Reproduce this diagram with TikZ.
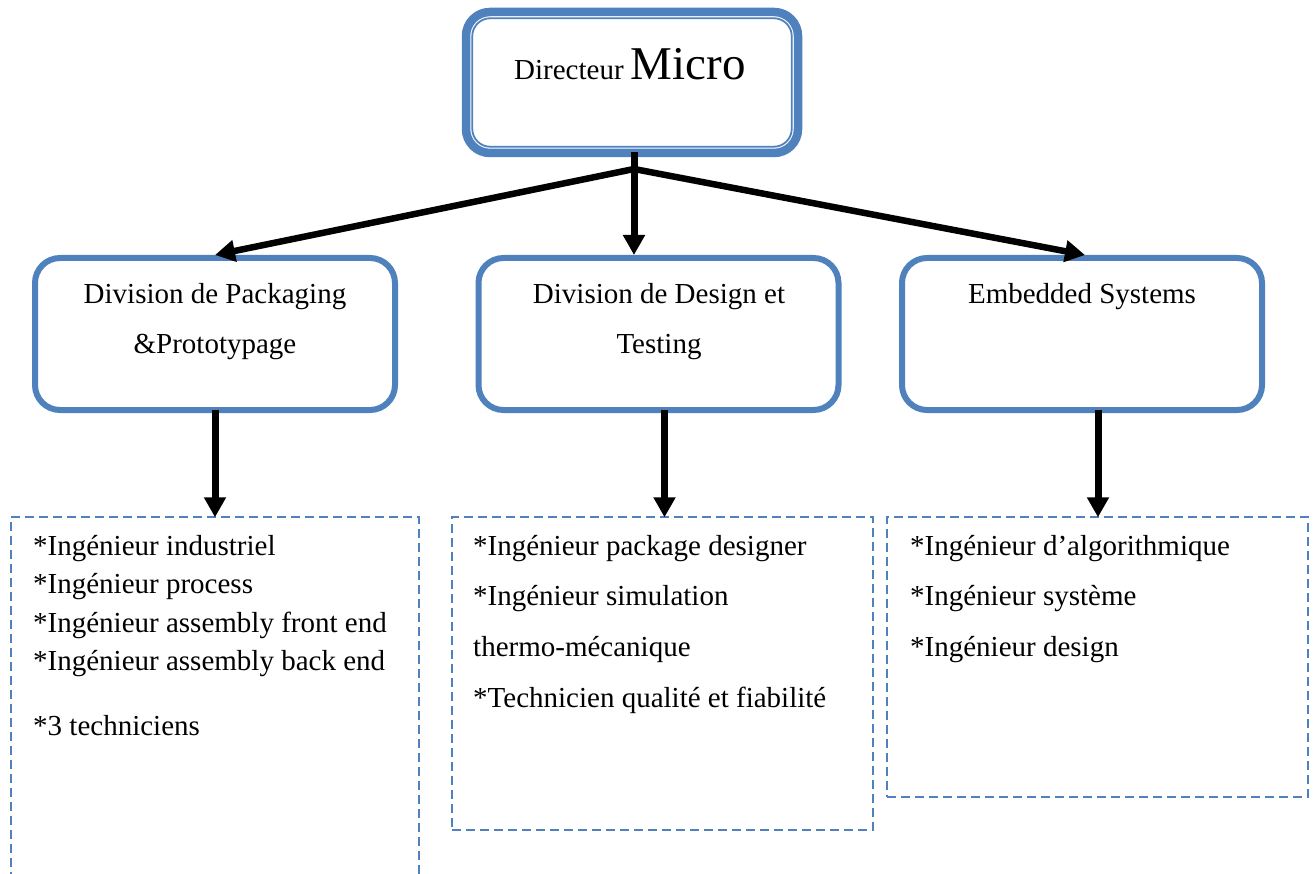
\documentclass[tikz,border=0pt]{standalone}
\usepackage{fontspec}
\setmainfont{Liberation Serif}
\usetikzlibrary{arrows.meta}
\definecolor{accent}{HTML}{4F81BD}

\begin{document}
\begin{tikzpicture}[x=1pt,y=-1pt,
  every node/.style={font=\fontsize{29}{34}\selectfont},
  unitbox/.style={draw=accent, line width=6pt, rounded corners=25pt,
    minimum width=360pt, minimum height=152pt, inner sep=0pt},
  headbox/.style={draw=accent, line width=8.5pt, rounded corners=24pt,
    minimum width=332pt, minimum height=141pt, inner sep=0pt},
  listbox/.style={draw=accent, line width=2.4pt, dash pattern=on 9pt off 5pt,
    inner sep=0pt},
  label/.style={inner sep=0pt, anchor=base},
  item/.style={inner sep=0pt, anchor=base west},
  conn/.style={line width=7pt, -{Triangle[length=20pt,width=21pt]}},
  fork/.style={line width=6.5pt, {Triangle[length=20pt,width=21pt]}-{Triangle[length=20pt,width=21pt]}}
]
\useasboundingbox (0,0) rectangle (1314,874);
\fill[white] (0,0) rectangle (1314,874);
\clip (0,0) rectangle (1314,874);

% director
\node[headbox] (dir) at (632,82.5) {};
\draw[accent, line width=1.8pt, rounded corners=18pt]
  ([shift={(10.5,10.5)}]dir.north west) rectangle ([shift={(-10.5,-10.5)}]dir.south east);
\node[label] (dirt) at (630,80) {Directeur {\fontsize{47}{50}\selectfont Micro}};

% divisions
\node[unitbox] (pk) at (215,334) {};
\node[label] (pk1) at (215,304) {Division de Packaging};
\node[label] (pk2) at (215,354) {\&Prototypage};

\node[unitbox] (ds) at (658.5,334) {};
\node[label] (ds1) at (659,304) {Division de Design et};
\node[label] (ds2) at (659,354) {Testing};

\node[unitbox] (es) at (1082,334) {};
\node[label] (es1) at (1082,304) {Embedded Systems};

% staff lists
\node[listbox, minimum width=408pt, minimum height=383pt] (pkl) at (215,708.5) {};
\node[item] (pkl1) at (33,555) {*Ingénieur industriel};
\node[item] (pkl2) at (33,593) {*Ingénieur process};
\node[item] (pkl3) at (33,632) {*Ingénieur assembly front end};
\node[item] (pkl4) at (33,670) {*Ingénieur assembly back end};
\node[item] (pkl5) at (33,735) {*3 techniciens};

\node[listbox, minimum width=421pt, minimum height=313pt] (dsl) at (662.5,673.5) {};
\node[item] (dsl1) at (473,555) {*Ingénieur package designer};
\node[item] (dsl2) at (473,605) {*Ingénieur simulation};
\node[item] (dsl3) at (473,656) {thermo-mécanique};
\node[item] (dsl4) at (473,707) {*Technicien qualité et fiabilité};

\node[listbox, minimum width=421pt, minimum height=280pt] (esl) at (1097.5,657) {};
\node[item] (esl1) at (910,555) {*Ingénieur d’algorithmique};
\node[item] (esl2) at (910,605) {*Ingénieur système};
\node[item] (esl3) at (910,656) {*Ingénieur design};

% connectors
\coordinate (j) at (634,169);
\draw[conn] ([yshift=5pt]dir.south -| j) -- (j |- ds.north);
\draw[fork, line join=miter] (pk.north) -- (j) -- ([xshift=3pt]es.north);
\draw[conn] ([yshift=3pt]pk.south) -- ([yshift=-1.5pt]pk.south |- pkl.north);
\draw[conn] ([shift={(6pt,3pt)}]ds.south) -- ([shift={(6pt,-1.5pt)}]ds.south |- dsl.north);
\draw[conn] ([shift={(16pt,3pt)}]es.south) -- ([shift={(16pt,-1.5pt)}]es.south |- esl.north);
\end{tikzpicture}
\end{document}
